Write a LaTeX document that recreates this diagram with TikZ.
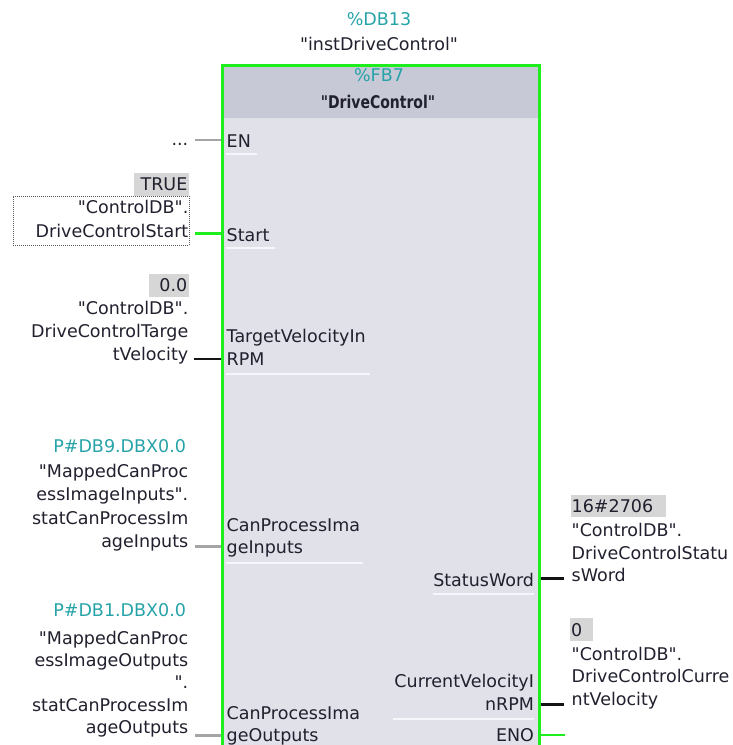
\documentclass[tikz,border=0pt]{standalone}
\usepackage{fontspec}
\newfontfamily\plcfont{DejaVu Sans}
\definecolor{ink}{RGB}{32,32,46}
\definecolor{dbteal}{RGB}{38,163,168}
\definecolor{okgreen}{RGB}{30,238,30}
\definecolor{hdrgray}{RGB}{200,201,214}
\definecolor{bodygray}{RGB}{225,225,234}
\definecolor{valgray}{RGB}{214,214,214}
\definecolor{wiregray}{RGB}{165,165,165}
\definecolor{wireblack}{RGB}{20,20,20}
\definecolor{ulwhite}{RGB}{247,247,251}
\tikzset{
  txt/.style={inner sep=0pt, outer sep=0pt, text=ink,
    font=\plcfont\fontsize{17.5}{23}\selectfont},
  addr/.style={txt, text=dbteal},
  opl/.style={txt, align=right},
  opr/.style={txt, align=left},
  valbox/.style={txt, fill=valgray, inner ysep=5pt, text height=12.8pt, text depth=0pt},
  wire/.style={line width=2.6pt},
  uline/.style={draw=ulwhite, line width=1.8pt},
  fbbox/.style={draw=okgreen, fill=bodygray, line width=2.6pt, inner sep=0pt},
}
\begin{document}
\begin{tikzpicture}[x=1pt, y=-1pt]
\useasboundingbox (0,0) rectangle (733,745);

% instance data block above the box
\node[addr, anchor=base] (dbnum) at (379,25) {\%DB13};
\node[txt, anchor=base] (dbname) at (379,50) {"instDriveControl"};

% function block body and header
\node[fbbox, anchor=north west, minimum width=317.4pt, minimum height=720pt]
  (fb) at (220.9,64.3) {};
\node[fill=hdrgray, inner sep=0pt, outer sep=0pt, anchor=north west,
  minimum width=314.8pt, minimum height=51.4pt] (hdr) at (223.5,66.9) {};
\node[addr, anchor=base] (fbnum) at (379,81.7) {\%FB7};
\node[txt, anchor=base] (fbname) at (378,108.3)
  {\scalebox{0.8}[1]{\bfseries "DriveControl"}};

% input pins (anchored on the baseline of their last line)
\node[txt, anchor=base west] (pEN) at (226.7,147.3) {EN};
\node[txt, anchor=base west] (pStart) at (226.7,241.7) {Start};
\node[txt, align=left, anchor=base west, font=\plcfont\fontsize{17.5}{22.3}\selectfont]
  (pTarget) at (226.7,365) {TargetVelocityIn\\RPM};
\node[txt, align=left, anchor=base west, font=\plcfont\fontsize{17.5}{22.3}\selectfont]
  (pIn) at (226.7,553.3) {CanProcessIma\\geInputs};
\node[txt, align=left, anchor=base west, font=\plcfont\fontsize{17.5}{22.3}\selectfont]
  (pOut) at (226.7,741.7) {CanProcessIma\\geOutputs};

% output pins
\node[txt, anchor=base east] (pStatus) at (534,586) {StatusWord};
\node[txt, align=right, anchor=base east, font=\plcfont\fontsize{17.5}{22.7}\selectfont]
  (pCur) at (534,710) {CurrentVelocityI\\nRPM};
\node[txt, anchor=base east] (pENO) at (534,741.7) {ENO};

% pin separators
\draw[uline] (226,154.3) -- (257,154.3);
\draw[uline] (226,248.3) -- (275,248.3);
\draw[uline] (226,374.3) -- (370,374.3);
\draw[uline] (226,563.3) -- (363,563.3);
\draw[uline] (433,594) -- (534,594);
\draw[uline] (393,719) -- (534,719);

% operands on the left
\node[txt, anchor=base east] (opEN) at (188.3,145.5) {...};

\node[valbox, anchor=base east, text width=51pt, align=right, inner xsep=2pt]
  (vStart) at (189.3,190.7) {TRUE};
\node[opl, anchor=base east, font=\plcfont\fontsize{17.5}{24}\selectfont]
  (opStart) at (188.3,237.3) {"ControlDB".\\DriveControlStart};
\node[draw=black!65, dash pattern=on 1pt off 1pt, line width=0.9pt,
  inner sep=0pt, outer sep=0pt, anchor=north west,
  minimum width=176pt, minimum height=49pt] (selStart) at (13.3,196) {};

\node[valbox, anchor=base east, text width=36pt, align=right, inner xsep=2pt]
  (vTarget) at (189.3,291.7) {0.0};
\node[opl, anchor=base east] (opTarget) at (188.3,360)
  {"ControlDB".\\DriveControlTarge\\tVelocity};

\node[addr, anchor=base east] (aIn) at (186,452.3) {P\#DB9.DBX0.0};
\node[opl, anchor=base east, font=\plcfont\fontsize{17.5}{23.3}\selectfont]
  (opIn) at (188.3,547.3)
  {"MappedCanProc\\essImageInputs".\\statCanProcessIm\\ageInputs};

\node[addr, anchor=base east] (aOut) at (186,616) {P\#DB1.DBX0.0};
\node[opl, anchor=base east, font=\plcfont\fontsize{17.5}{22.3}\selectfont]
  (opOut) at (188.3,733.3)
  {"MappedCanProc\\essImageOutputs\\".\\statCanProcessIm\\ageOutputs};

% operands on the right
\node[valbox, anchor=base west, text width=93pt, align=left, inner xsep=1pt]
  (vStatus) at (570.7,512.3) {16\#2706};
\node[opr, anchor=base west, font=\plcfont\fontsize{17.5}{22.5}\selectfont]
  (opStatus) at (571.7,581.7) {"ControlDB".\\DriveControlStatu\\sWord};

\node[valbox, anchor=base west, text width=21pt, align=left, inner xsep=1pt]
  (vCur) at (570,636) {0};
\node[opr, anchor=base west, font=\plcfont\fontsize{17.5}{22.5}\selectfont]
  (opCur) at (571.7,705) {"ControlDB".\\DriveControlCurre\\ntVelocity};

% wire ends
\coordinate (wEN) at (195,140);
\coordinate (wStart) at (195,233.3);
\coordinate (wTarget) at (194,359);
\coordinate (wIn) at (195,546.7);
\coordinate (wOut) at (195,735.7);
\coordinate (wStatus) at (564.3,578.3);
\coordinate (wCur) at (564.3,704.3);
\coordinate (wENO) at (565,735);

% connections
\draw[wire, wiregray] (wEN) -- (wEN -| fb.west);
\draw[wire, okgreen] (wStart) -- (wStart -| fb.west);
\draw[wire, wireblack] (wTarget) -- (wTarget -| fb.west);
\draw[wire, wiregray] (wIn) -- (wIn -| fb.west);
\draw[wire, wiregray] (wOut) -- (wOut -| fb.west);
\draw[wire, wireblack] (wStatus -| fb.east) -- (wStatus);
\draw[wire, wireblack] (wCur -| fb.east) -- (wCur);
\draw[wire, okgreen] (wENO -| fb.east) -- (wENO);
\end{tikzpicture}
\end{document}
